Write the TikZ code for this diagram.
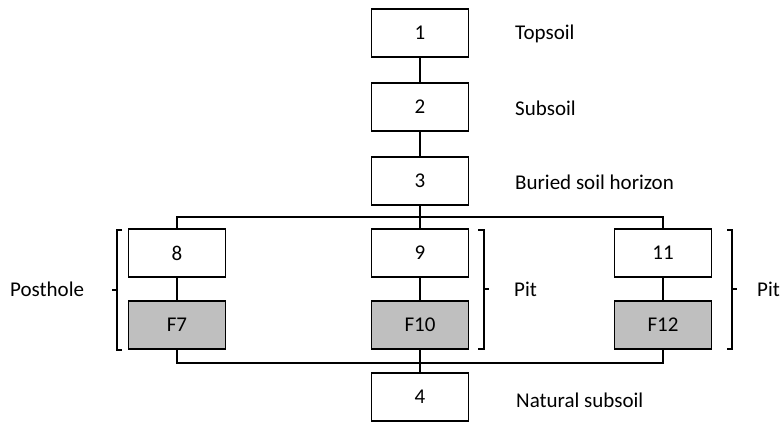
\documentclass[tikz,border=0pt]{standalone}
\usepackage{fontspec}
\setmainfont{Carlito}
\definecolor{boxgray}{RGB}{191,191,191}
\begin{document}
\begin{tikzpicture}[x=1pt,y=-1pt,
  box/.style={draw,line width=1.6pt,minimum width=97pt,minimum height=48pt,inner sep=0pt,font=\fontsize{21}{25}\selectfont},
  fbox/.style={box,fill=boxgray},
  lbl/.style={anchor=west,inner sep=0pt,font=\fontsize{21}{25}\selectfont},
  conn/.style={line width=1.6pt},
  brk/.style={line width=1.4pt}]
\useasboundingbox (0,0) rectangle (780,422);
\node[box] (b1) at (420,33) {1};
\node[box] (b2) at (420,107) {2};
\node[box] (b3) at (420,181) {3};
\node[box] (b8) at (177,253) {8};
\node[box] (b9) at (420,253) {9};
\node[box] (b11) at (663,253) {11};
\node[fbox] (f7) at (177,325) {F7};
\node[fbox] (f10) at (420,325) {F10};
\node[fbox] (f12) at (663,325) {F12};
\node[box] (b4) at (420,397) {4};
\node[lbl] (t1) at (515,34) {Topsoil};
\node[lbl] (t2) at (515,108) {Subsoil};
\node[lbl] (t3) at (515,182) {Buried soil horizon};
\node[lbl] (t4) at (516,400) {Natural subsoil};
\node[lbl] (ph) at (10,289) {Posthole};
\node[lbl] (p1) at (514,289) {Pit};
\node[lbl] (p2) at (757,289) {Pit};
\coordinate (top) at (420,217);
\coordinate (bot) at (420,363);
\draw[conn] (b1) -- (b2);
\draw[conn] (b2) -- (b3);
\draw[conn] (b3.south) -- (top);
\draw[conn] (b8.north) |- (top) -| (b11.north);
\draw[conn] (top) -- (b9.north);
\draw[conn] (b8) -- (f7);
\draw[conn] (b9) -- (f10);
\draw[conn] (b11) -- (f12);
\draw[conn] (f7.south) |- (bot) -| (f12.south);
\draw[conn] (f10.south) -- (b4.north);
% brackets
\draw[brk] (122,230) -- (117,230) -- (117,350) -- (122,350);
\draw[brk] (117,290) -- (112,290);
\draw[brk] (478,230) -- (484,230) -- (484,349) -- (478,349);
\draw[brk] (484,289) -- (489,289);
\draw[brk] (727,230) -- (732,230) -- (732,349) -- (727,349);
\draw[brk] (732,289) -- (737,289);
\end{tikzpicture}
\end{document}
